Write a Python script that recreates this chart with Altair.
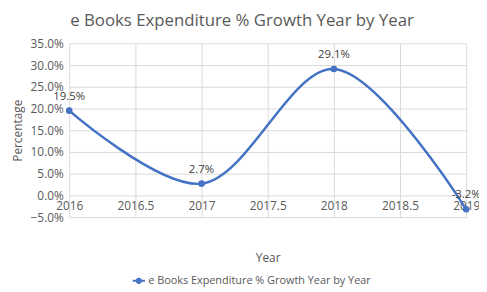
import altair as alt
import pandas as pd

years = [2016, 2017, 2018, 2019]
growth = [0.195, 0.027, 0.291, -0.032]
point_labels = ["19.5%", "2.7%", "29.1%", "-3.2%"]
label_shift = [0, 0, 0, -4]
series_name = "e Books Expenditure % Growth Year by Year"
x_ticks = [2016, 2016.5, 2017, 2017.5, 2018, 2018.5, 2019]
y_ticks = [-0.05, 0.0, 0.05, 0.10, 0.15, 0.20, 0.25, 0.30, 0.35]

df = pd.DataFrame({"Year": years, "Growth": growth, "Label": point_labels,
                   "Shift": label_shift, "Series": [series_name] * len(years)})

BLUE = "#4472C4"
GRAY = "#595959"
FONT = "Open Sans"

x = alt.X("Year:Q",
          scale=alt.Scale(domain=[2016, 2019], nice=False, zero=False),
          axis=alt.Axis(values=x_ticks, tickCount=20, labelExpr="datum.value + ''", title="Year",
                        offset=-22, domain=False, ticks=False, grid=True,
                        gridColor="#d9d9d9", labelColor=GRAY, labelFontSize=12,
                        labelFont=FONT, labelPadding=5, titlePadding=42,
                        titleFont=FONT, titleFontSize=12, titleColor=GRAY,
                        titleFontWeight="normal", labelFlush=False, labelOverlap=False))
y = alt.Y("Growth:Q",
          scale=alt.Scale(domain=[-0.05, 0.35], nice=False),
          axis=alt.Axis(values=y_ticks, tickCount=20, format=".1%", title="Percentage",
                        domain=False, ticks=False, grid=True, gridColor="#d9d9d9",
                        labelColor=GRAY, labelFontSize=12, labelFont=FONT,
                        labelPadding=6, titleFont=FONT, titleFontSize=12,
                        titleColor=GRAY, titleFontWeight="normal", titlePadding=6,
                        labelOverlap=False))

legend_path = "M-1.6,0L1.6,0M-0.55,0A0.55,0.55 0 1,1 0.55,0A0.55,0.55 0 1,1 -0.55,0Z"

line = alt.Chart(df).mark_line(interpolate="catmull-rom", strokeWidth=2.5).encode(
    x=x, y=y,
    color=alt.Color("Series:N", scale=alt.Scale(range=[BLUE]),
                    legend=alt.Legend(title=None, orient="none", legendX=65, legendY=235,
                                      symbolType=legend_path, symbolSize=60,
                                      symbolFillColor=BLUE, symbolStrokeColor=BLUE,
                                      symbolStrokeWidth=2, labelFont=FONT,
                                      labelFontSize=11, labelColor=GRAY, labelLimit=0)))
points = alt.Chart(df).mark_point(filled=True, size=45, opacity=1).encode(
    x="Year:Q", y="Growth:Q", color=alt.Color("Series:N", legend=None))
labels = alt.Chart(df).mark_text(dy=-14, fontSize=11.5, font=FONT, color="#404040").encode(
    x="Year:Q", y="Growth:Q", text="Label:N", xOffset="Shift:Q")

chart = alt.layer(line, points, labels).properties(
    width=402, height=176,
    title=alt.TitleParams("e Books Expenditure % Growth Year by Year", font=FONT,
                          fontSize=17, color=GRAY, fontWeight="normal", offset=8,
                          anchor="middle", dx=-26),
    autosize=alt.AutoSizeParams(type="none"),
    padding={"left": 62, "top": 34, "right": 13, "bottom": 70},
).configure_view(stroke=None)

chart.save("out.html", embed_options={"renderer": "svg", "actions": False})
